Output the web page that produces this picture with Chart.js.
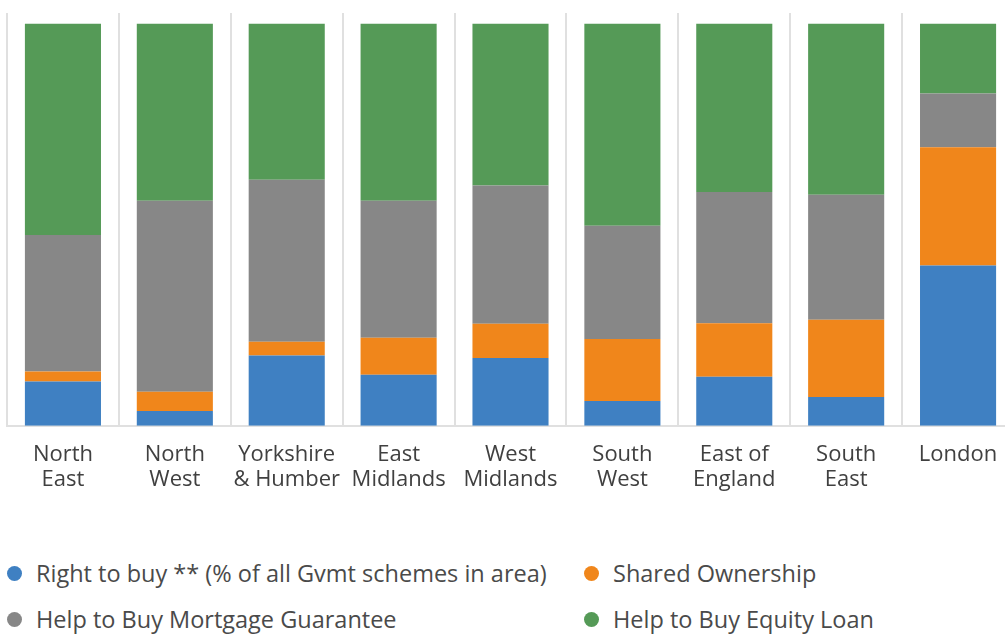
<!DOCTYPE html>
<html>
<head>
<meta charset="utf-8">
<script src="https://cdn.jsdelivr.net/npm/chart.js@4/dist/chart.umd.min.js"></script>
<style>
  html, body { margin: 0; padding: 0; background: #fff; overflow: hidden; }
  #wrap { position: relative; width: 1005px; height: 634px; overflow: hidden; }
  #box { position: absolute; left: 0; top: 0; width: 1016px; height: 508px; }
  #legend { position: absolute; left: 0; top: 558px; width: 1005px; font-family: "Open Sans", sans-serif; font-size: 23.5px; color: #4a4a4a; }
  .item { position: absolute; display: flex; align-items: center; white-space: nowrap; height: 30px; }
  .dot { width: 15px; height: 15px; border-radius: 50%; margin-right: 14px; }
</style>
</head>
<body>
<div id="wrap">
  <div id="box"><canvas id="myChart"></canvas></div>
  <div id="legend"></div>
</div>
<script>
const regions = [
  ["North", "East"], ["North", "West"], ["Yorkshire", "& Humber"], ["East", "Midlands"],
  ["West", "Midlands"], ["South", "West"], ["East of", "England"], ["South", "East"], ["London"]
];

// % share of each scheme in the area
const rightToBuy = [11.0, 3.7, 17.5, 12.7, 16.9, 6.2, 12.2, 7.2, 39.9];
const sharedOwnership = [2.5, 4.8, 3.4, 9.2, 8.5, 15.4, 13.3, 19.2, 29.4];
const mortgageGuarantee = [34.0, 47.5, 40.3, 34.1, 34.4, 28.2, 32.7, 31.1, 13.4];
const equityLoan = [52.5, 44.0, 38.8, 44.0, 40.2, 50.2, 41.8, 42.5, 17.3];

const seriesNames = [
  "Right to buy ** (% of all Gvmt schemes in area)",
  "Shared Ownership",
  "Help to Buy Mortgage Guarantee",
  "Help to Buy Equity Loan"
];
const colors = ["#3f80c2", "#f0861b", "#878787", "#559a57"];

const values = [rightToBuy, sharedOwnership, mortgageGuarantee, equityLoan];
const datasets = values.map((v, i) => ({
  label: seriesNames[i],
  data: v,
  backgroundColor: colors[i],
  borderWidth: 0,
  categoryPercentage: 1,
  barPercentage: 0.68
}));

const ctx = document.getElementById("myChart").getContext("2d");
const chart = new Chart(ctx, {
  type: "bar",
  data: { labels: regions, datasets: datasets },
  options: {
    responsive: true,
    maintainAspectRatio: false,
    animation: false,
    layout: { padding: { left: 7, right: 2, top: 13 } },
    plugins: { legend: { display: false }, tooltip: { enabled: false } },
    scales: {
      x: {
        stacked: true,
        grid: { display: true, offset: true, color: "#e0e0e0", lineWidth: 2, drawTicks: false },
        border: { display: true, color: "#e0e0e0", width: 2 },
        ticks: {
          color: "#404040",
          padding: 16,
          maxRotation: 0,
          autoSkip: false,
          font: { family: "Open Sans", size: 22, lineHeight: 1.14 }
        }
      },
      y: {
        stacked: true,
        display: false,
        min: 0,
        max: 102.7
      }
    }
  }
});

// legend in two columns, built from the chart datasets
const legend = document.getElementById("legend");
const pos = [[7, 0], [584, 0], [7, 46], [584, 46]];
chart.data.datasets.forEach((ds, i) => {
  const el = document.createElement("div");
  el.className = "item";
  el.style.left = pos[i][0] + "px";
  el.style.top = pos[i][1] + "px";
  el.innerHTML = '<span class="dot" style="background:' + ds.backgroundColor + '"></span>' + ds.label;
  legend.appendChild(el);
});
</script>
</body>
</html>
